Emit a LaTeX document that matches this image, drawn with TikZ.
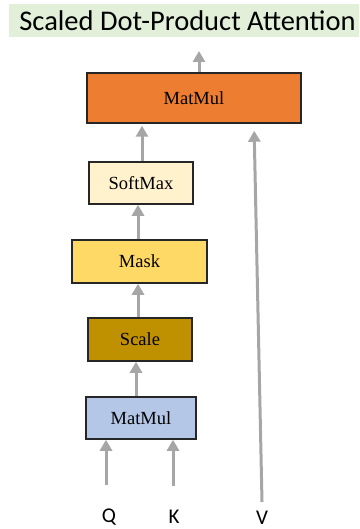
\documentclass[tikz,border=0pt]{standalone}
\usepackage{fontspec}
\setmainfont{Liberation Serif}
\newfontfamily\carlito{Carlito}
\usetikzlibrary{arrows.meta}
\definecolor{orangebox}{HTML}{ED7D31}
\definecolor{softbox}{HTML}{FFF2CC}
\definecolor{maskbox}{HTML}{FFD966}
\definecolor{scalebox}{HTML}{BF9000}
\definecolor{bluebox}{HTML}{B4C7E7}
\definecolor{arrowgray}{HTML}{A6A6A6}
\definecolor{titlebg}{HTML}{E2F0D9}
\definecolor{boxline}{HTML}{262626}
\tikzset{
  opbox/.style={draw=boxline, line width=1.5pt, inner sep=0pt, font=\fontsize{18.5}{20}\selectfont},
  arr/.style={draw=arrowgray, line width=3pt, -{Triangle[width=12pt,length=11pt]}},
  inlabel/.style={font=\carlito\fontsize{21}{23}\selectfont, inner sep=0pt},
}
\begin{document}
\begin{tikzpicture}[x=1pt,y=-1pt]
\useasboundingbox (0,0) rectangle (359,529);
\fill[titlebg] (9,4) rectangle (359,37);
\node[font=\carlito\fontsize{28.5}{31}\selectfont, inner sep=0pt, anchor=base] (title) at (187.5,31) {Scaled Dot-Product Attention};
\node[opbox, fill=orangebox, minimum width=214pt, minimum height=50pt] (mm) at (194,98) {MatMul};
\node[opbox, fill=softbox, minimum width=104pt, minimum height=42pt] (sm) at (141,183) {SoftMax};
\node[opbox, fill=maskbox, minimum width=135pt, minimum height=43pt] (mask) at (139.5,261.5) {Mask};
\node[opbox, fill=scalebox, minimum width=104pt, minimum height=43pt] (sc) at (140,339.5) {Scale};
\node[opbox, fill=bluebox, minimum width=110pt, minimum height=42pt] (bm) at (141,418) {MatMul};
\node[inlabel, anchor=base] (q) at (109,522) {Q};
\node[inlabel, anchor=base] (k) at (174,523) {K};
\node[inlabel, anchor=base] (v) at (262,524) {V};
\coordinate (out) at (199,51);
\coordinate (qs) at (106,485);
\coordinate (ks) at (173,486);
\coordinate (vs) at (262,502);
\draw[arr] (mm.north -| out) -- (out);
\draw[arr, shorten >=2pt] (sm.north -| 142,0) -- (mm.south -| 142,0);
\draw[arr, shorten >=7pt] (vs) -- (mm.south -| 254,0);
\draw[arr] (mask.north -| 138,0) -- (sm.south -| 138,0);
\draw[arr] (sc.north -| 138,0) -- (mask.south -| 138,0);
\draw[arr] (bm.north -| 136,0) -- (sc.south -| 136,0);
\draw[arr] (qs) -- (qs |- bm.south);
\draw[arr] (ks) -- (ks |- bm.south);
\end{tikzpicture}
\end{document}
